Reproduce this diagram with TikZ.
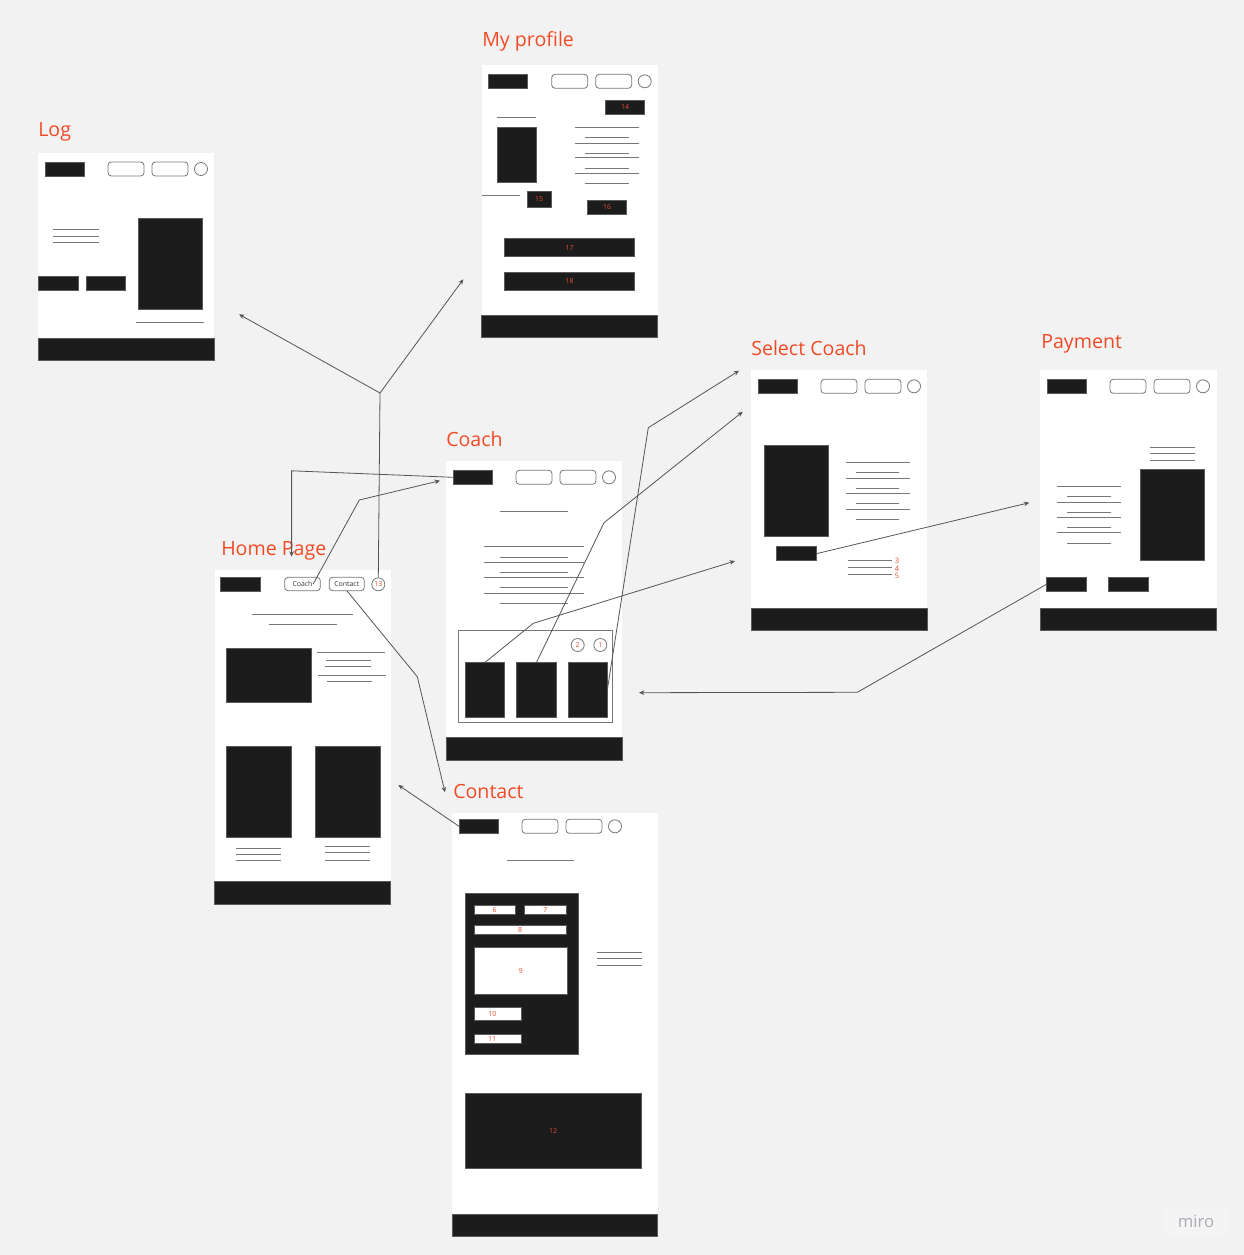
\documentclass[tikz,border=0pt]{standalone}
\usepackage{fontspec}
\setmainfont{Open Sans}
\usetikzlibrary{arrows.meta}
\definecolor{bg}{HTML}{F2F2F2}
\definecolor{ink}{HTML}{1C1C1C}
\definecolor{edge}{HTML}{5A5A5A}
\definecolor{lgray}{HTML}{777777}
\definecolor{lbl}{HTML}{F24A26}
\definecolor{num}{HTML}{E0502C}
\definecolor{wire}{HTML}{555555}
\definecolor{mirotxt}{HTML}{ABABB6}
\definecolor{mirobox}{HTML}{F4F4F4}
\tikzset{
 frame/.style={fill=white, draw=none},
 blk/.style={fill=ink, draw=edge, line width=0.5pt, inner sep=0pt, outer sep=0pt},
 wbox/.style={fill=white, draw=edge, line width=0.5pt, inner sep=0pt, outer sep=0pt},
 obtn/.style={fill=white, draw=lgray, line width=0.6pt, rounded corners=2.5pt, inner sep=0pt, outer sep=0pt},
 ocirc/.style={circle, fill=white, draw=lgray, line width=0.6pt, inner sep=0pt, minimum size=9.75pt},
 tl/.style={draw=lgray, line width=0.75pt},
 conn/.style={draw=wire, line width=0.6pt, -{Stealth[length=4pt,width=3.5pt]}},
 conl/.style={draw=wire, line width=0.6pt},
 title/.style={anchor=base west, inner sep=0pt, text=lbl, font=\fontsize{14.7}{16}\selectfont},
 nm/.style={text=num, font=\fontsize{5.2}{6}\selectfont},
 btxt/.style={text=black!80, font=\fontsize{5.2}{6}\selectfont},
}
\newcommand\bx[7]{\node[#2, minimum width={((#5)-(#3))*0.75pt}, minimum height={((#6)-(#4))*0.75pt}] (#1) at ({((#3)+(#5))/2},{((#4)+(#6))/2}) {#7};}
\newcommand\hdr[3]{%
 \bx{#1logo}{blk}{#2+7}{#3-7}{#2+46}{#3+7}{}
 \bx{#1b1}{obtn}{#2+70}{#3-7}{#2+106}{#3+7}{}
 \bx{#1b2}{obtn}{#2+114}{#3-7}{#2+150}{#3+7}{}
 \node[ocirc] (#1c) at ({#2+163},#3) {};
}
\begin{document}
\begin{tikzpicture}[x=0.75pt,y=-0.75pt]
\useasboundingbox (0,0) rectangle (1244,1255);
\fill[bg] (0,0) rectangle (1244,1255);

% ---------- Log ----------
\fill[frame] (38,153) rectangle (214,360);
\hdr{log}{38}{169}
\draw[tl] (53,230)--(99,230) (53,236.5)--(99,236.5) (53,242.5)--(99,242.5);
\bx{logbtna}{blk}{38}{276.5}{78}{290}{}
\bx{logbtnb}{blk}{86.5}{276.5}{125.7}{290}{}
\bx{logimg}{blk}{138}{218}{202.7}{309}{}
\draw[tl] (136,322)--(204,322);
\bx{logfoot}{blk}{38}{338}{214}{360}{}
\node[title] (lblLog) at (38,136.7) {Log};

% ---------- My profile ----------
\fill[frame] (481.7,65) rectangle (657.7,337.7);
\hdr{pr}{481.7}{81.3}
\bx{p14}{blk,nm}{605.3}{100.3}{644.7}{114.3}{14}
\draw[tl] (497.3,117.3)--(535.7,117.3);
\bx{primg}{blk}{497.3}{127.3}{536.3}{182.7}{}
\draw[tl] (481.7,196)--(520,196);
\bx{p15}{blk,nm}{527.3}{191.3}{551}{207.3}{15}
\foreach \y in {127.3,143.3,157.7,173.7} \draw[tl] (575,\y)--(639,\y);
\foreach \y in {137.7,153.3,168.3,184} \draw[tl] (585.3,\y)--(628.7,\y);
\bx{p16}{blk,nm}{587.3}{200.7}{626.7}{214.3}{16}
\bx{p17}{blk,nm}{504.7}{238.7}{634.3}{256.7}{17}
\bx{p18}{blk,nm}{504.7}{272.3}{634.3}{290.3}{18}
\bx{prfoot}{blk}{481.7}{315}{657.7}{337.7}{}
\node[title] (lblProf) at (482,46.7) {My profile};

% ---------- Home Page ----------
\fill[frame] (214.5,570) rectangle (390.7,904.3);
\bx{hlogo}{blk}{220.7}{577}{260.3}{591}{}
\bx{hCoach}{obtn,btxt}{284.7}{577.3}{320.3}{590.7}{Coach}
\bx{hContact}{obtn,btxt}{329.3}{577.3}{364.3}{590.7}{Contact}
\node[ocirc,nm] (h13) at (378.3,584.3) {13};
\draw[tl] (252.3,614.3)--(352.7,614.3) (268.7,624.7)--(336.7,624.7);
\bx{himg}{blk}{226.3}{648}{311.3}{702.3}{}
\draw[tl] (317.3,652)--(385.3,652) (326,660)--(371.3,660) (325.3,666.7)--(371,666.7) (318,675)--(385.7,675) (327,681.7)--(372.3,681.7);
\bx{himgb}{blk}{226.3}{746.3}{291}{837.7}{}
\bx{himgc}{blk}{315.3}{746.3}{380}{837.7}{}
\foreach \y in {848.3,854.3,860.7} \draw[tl] (236,\y)--(281.3,\y);
\foreach \y in {846.7,852.7,860} \draw[tl] (325,\y)--(370.3,\y);
\bx{hfoot}{blk}{214.5}{881.7}{390.7}{904.3}{}
\node[title] (lblHome) at (221,555) {Home Page};

% ---------- Coach ----------
\fill[frame] (446,460.7) rectangle (622,760);
\hdr{co}{446}{477.3}
\draw[tl] (500,511)--(568,511);
\foreach \y in {546.7,562.3,577,593} \draw[tl] (483.7,\y)--(584.3,\y);
\foreach \y in {557,572.7,587.3,603.3} \draw[tl] (500,\y)--(568,\y);
\draw[draw=lgray, line width=0.75pt] (458.3,630.7) rectangle (612.7,722);
\node[ocirc,nm] (cTwo) at (577.7,645) {2};
\node[ocirc,nm] (cOne) at (600.3,645) {1};
\bx{card1}{blk}{465}{662.7}{504.3}{717.3}{}
\bx{card2}{blk}{516.7}{662.7}{556}{717.3}{}
\bx{card3}{blk}{568.3}{662.7}{607.3}{717.3}{}
\bx{cofoot}{blk}{446}{737.7}{622}{760}{}
\node[title] (lblCoach) at (446,446) {Coach};

% ---------- Contact ----------
\fill[frame] (452,812.7) rectangle (657.7,1236.7);
\hdr{ct}{452}{826.3}
\draw[tl] (506.7,860.7)--(574.3,860.7);
\bx{form}{blk}{465.3}{893.7}{578}{1054}{}
\bx{f6}{wbox,nm}{474}{905}{515.3}{914.3}{6}
\bx{f7}{wbox,nm}{524.7}{905}{566}{914.3}{7}
\bx{f8}{wbox,nm}{474}{925}{566}{934.3}{8}
\bx{f9}{wbox,nm}{474}{947}{567.7}{994.7}{9}
\bx{f10}{wbox}{474}{1007.7}{521}{1020}{}
\node[nm] (n10) at (492.3,1014) {10};
\bx{f11}{wbox}{474}{1034.7}{521}{1043.7}{}
\node[nm] (n11) at (492,1039.5) {11};
\foreach \y in {952.3,958.7,965.3} \draw[tl] (597,\y)--(642.3,\y);
\bx{map}{blk,nm}{465.3}{1093.3}{641}{1168.3}{12}
\bx{ctfoot}{blk}{452}{1214.7}{657.7}{1236.7}{}
\node[title] (lblContact) at (453,798.3) {Contact};

% ---------- Select Coach ----------
\fill[frame] (751,370) rectangle (927,630);
\hdr{sc}{751}{386.3}
\bx{scimg}{blk}{764}{445}{828.7}{536.7}{}
\foreach \y in {462.3,478.3,493,509} \draw[tl] (845.7,\y)--(910,\y);
\foreach \y in {472.7,488.3,503.3,519} \draw[tl] (856,\y)--(899.3,\y);
\bx{scbtn}{blk}{776.7}{546.7}{816.3}{560.7}{}
\draw[tl] (848.3,560.7)--(892.3,560.7) (848.3,567.3)--(892.3,567.3) (848.3,574.3)--(892.3,574.3);
\node[nm,anchor=west,inner sep=0pt,font=\fontsize{5.6}{6}\selectfont] (n3) at (894.5,561.3) {3};
\node[nm,anchor=west,inner sep=0pt,font=\fontsize{5.6}{6}\selectfont] (n4) at (894.5,568.5) {4};
\node[nm,anchor=west,inner sep=0pt,font=\fontsize{5.6}{6}\selectfont] (n5) at (894.5,575.5) {5};
\bx{scfoot}{blk}{751}{608.3}{927}{630}{}
\node[title] (lblSelect) at (751,355) {Select Coach};

% ---------- Payment ----------
\fill[frame] (1040,370) rectangle (1216.7,630);
\hdr{pay}{1040}{386.3}
\foreach \y in {447,453.3,460.3} \draw[tl] (1150,\y)--(1195,\y);
\bx{payimg}{blk}{1140.3}{469.3}{1204.7}{560.3}{}
\foreach \y in {486,502.3,517,532.7} \draw[tl] (1056.7,\y)--(1121,\y);
\foreach \y in {496.7,512.7,527.3,543} \draw[tl] (1067.3,\y)--(1110.7,\y);
\bx{paybtna}{blk}{1046.7}{577.3}{1086}{591}{}
\bx{paybtnb}{blk}{1108.7}{577.3}{1148.3}{591}{}
\bx{payfoot}{blk}{1040}{608.3}{1216.7}{630}{}
\node[title] (lblPay) at (1041,348.3) {Payment};

% ---------- connectors ----------
\coordinate (j1) at (380,393);
\coordinate (aLog) at (239,314.3);
\coordinate (aProf) at (463.3,279.3);
\draw[conl] (h13.north) -- (j1);
\draw[conn] (j1) -- (aLog);
\draw[conn] (j1) -- (aProf);

\coordinate (k2) at (291.6,470.8);
\coordinate (aHome) at (291.6,556.7);
\draw[conn] (cologo.west) -- (k2) -- (aHome);

\coordinate (k3) at (359.3,500);
\coordinate (aCoach) at (440,480.7);
\draw[conn] ([xshift=8pt]hCoach.center) -- (k3) -- (aCoach);

\coordinate (k4) at (417.3,676.7);
\coordinate (aContact) at (445,792.3);
\draw[conn] (hContact.south) -- (k4) -- (aContact);

\coordinate (aHomeB) at (398.3,785);
\draw[conn] (ctlogo.west) -- (aHomeB);

\coordinate (k6) at (533.3,623.3);
\coordinate (a6) at (735,561);
\draw[conn] (card1.north) -- (k6) -- (a6);
\coordinate (k7) at (604,522.7);
\coordinate (a7) at (742.7,411.7);
\draw[conn] (card2.north) -- (k7) -- (a7);
\coordinate (k8) at (648.3,427.7);
\coordinate (a8) at (739,370.7);
\draw[conn] (card3.east) -- (k8) -- (a8);

\coordinate (a9) at (1029.3,502.7);
\draw[conn] (scbtn.east) -- (a9);
\coordinate (k10) at (857.3,692.3);
\coordinate (a10) at (639,692.7);
\draw[conn] (paybtna.west) -- (k10) -- (a10);

% ---------- miro mark ----------
\node[fill=mirobox, rounded corners=3pt, inner sep=0pt, minimum width=46pt, minimum height=22pt, text=mirotxt, font=\fontsize{12.5}{14}\selectfont] (miro) at (1196,1221) {miro};
\end{tikzpicture}
\end{document}
